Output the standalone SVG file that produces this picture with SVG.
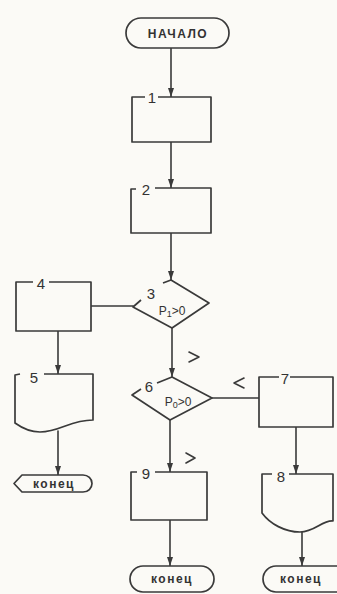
<svg xmlns="http://www.w3.org/2000/svg" width="337" height="594" viewBox="0 0 337 594">
  <defs>
    <marker id="arr" viewBox="0 0 9 6" refX="9" refY="3" markerWidth="9" markerHeight="6" orient="auto" markerUnits="userSpaceOnUse">
      <path d="M0,0 L9,3 L0,6 Z" fill="#3a3a3a"/>
    </marker>
    <style>
      .ln { fill: none; stroke: #3a3a3a; stroke-width: 1.6; stroke-linejoin: round; stroke-linecap: round; }
      .sh { fill: #fbfaf6; stroke: #3a3a3a; stroke-width: 1.7; stroke-linejoin: round; }
      .t { font-family: "Liberation Sans", "DejaVu Sans", sans-serif; fill: #333; font-weight: bold; }
      .num { font-size: 15px; font-weight: normal; }
      .term { font-size: 12px; letter-spacing: 1.5px; }
      .cond { font-size: 12px; font-weight: normal; }
    </style>
  </defs>

  <rect width="337" height="594" fill="#fbfaf6"/>

  <!-- connectors -->
  <g id="connectors">
    <line class="ln" x1="171" y1="48" x2="171" y2="97" marker-end="url(#arr)"/>
    <line class="ln" x1="171" y1="142" x2="171" y2="188" marker-end="url(#arr)"/>
    <line class="ln" x1="171" y1="233" x2="171" y2="280" marker-end="url(#arr)"/>
    <line class="ln" x1="133" y1="306" x2="91" y2="306"/>
    <line class="ln" x1="58" y1="331" x2="58" y2="374" marker-end="url(#arr)"/>
    <line class="ln" x1="58" y1="431" x2="58" y2="475" marker-end="url(#arr)"/>
    <line class="ln" x1="172" y1="328" x2="172" y2="377" marker-end="url(#arr)"/>
    <line class="ln" x1="212" y1="398" x2="259" y2="398"/>
    <line class="ln" x1="296" y1="427" x2="296" y2="474" marker-end="url(#arr)"/>
    <line class="ln" x1="170" y1="420" x2="170" y2="472" marker-end="url(#arr)"/>
    <line class="ln" x1="170" y1="520" x2="170" y2="566" marker-end="url(#arr)"/>
    <line class="ln" x1="302" y1="532" x2="302" y2="566" marker-end="url(#arr)"/>
    <!-- branch marks -->
    <path class="ln" d="M189,352 L199,357 L189,362"/>
    <path class="ln" d="M186,453 L195,458 L186,463"/>
    <path class="ln" d="M244,378 L234,383 L244,388"/>
  </g>

  <!-- start -->
  <g id="start">
    <rect class="sh" x="126" y="18" width="103" height="30" rx="15"/>
    <text class="t term" x="178" y="38" text-anchor="middle">НАЧАЛО</text>
  </g>

  <!-- process 1 -->
  <g id="n1">
    <path class="sh" d="M145,97 L132,97 L132,142 L211,142 L211,97 L158,97"/>
    <text class="t num" x="152" y="103" text-anchor="middle">1</text>
  </g>

  <!-- process 2 -->
  <g id="n2">
    <path class="sh" d="M136,189 L131,189 L131,233 L211,233 L211,188 L155,188"/>
    <text class="t num" x="146" y="195" text-anchor="middle">2</text>
  </g>

  <!-- decision 3 -->
  <g id="n3">
    <path class="sh" d="M163,283 L171,280 L209,303 L172,328 L133,307 L141,300"/>
    <text class="t num" x="151" y="299" text-anchor="middle">3</text>
    <text class="t cond" x="172" y="315" text-anchor="middle">P<tspan font-size="9" dy="2">1</tspan><tspan dy="-2">&gt;0</tspan></text>
  </g>

  <!-- process 4 -->
  <g id="n4">
    <path class="sh" d="M33,282 L16,282 L16,331 L91,331 L91,282 L49,282"/>
    <text class="t num" x="41" y="289" text-anchor="middle">4</text>
  </g>

  <!-- document 5 -->
  <g id="n5">
    <path class="sh" d="M20,374 L15,375 L15,423 C22,428 30,432 40,432 C60,432 70,420 93,420 L93,374 L44,374"/>
    <text class="t num" x="34" y="383" text-anchor="middle">5</text>
  </g>

  <!-- end (left) -->
  <g id="end1">
    <path class="sh" d="M22,475 L83,475 A9,8.5 0 0 1 83,492 L22,492 L14,483.5 Z"/>
    <text class="t term" x="54" y="488" text-anchor="middle" font-size="11" letter-spacing="1">конец</text>
  </g>

  <!-- decision 6 -->
  <g id="n6">
    <path class="sh" d="M157,383 L172,377 L212,398 L170,420 L132,395 L141,389"/>
    <text class="t num" x="149" y="392" text-anchor="middle">6</text>
    <text class="t cond" x="178" y="406" text-anchor="middle">P<tspan font-size="9" dy="2">0</tspan><tspan dy="-2">&gt;0</tspan></text>
  </g>

  <!-- process 7 -->
  <g id="n7">
    <path class="sh" d="M279,377 L259,377 L259,427 L333,427 L333,377 L290,377"/>
    <text class="t num" x="285" y="384" text-anchor="middle">7</text>
  </g>

  <!-- document 8 -->
  <g id="n8">
    <path class="sh" d="M272,474 L262,474 L262,513 C270,524 285,532 300,532 C315,532 322,520 333,521 L333,474 L289,474"/>
    <text class="t num" x="281" y="482" text-anchor="middle">8</text>
  </g>

  <!-- process 9 -->
  <g id="n9">
    <path class="sh" d="M137,472 L131,472 L131,520 L207,520 L207,472 L155,472"/>
    <text class="t num" x="146" y="479" text-anchor="middle">9</text>
  </g>

  <!-- end (middle) -->
  <g id="end2">
    <rect class="sh" x="130" y="566" width="84" height="26" rx="13"/>
    <text class="t term" x="172" y="583" text-anchor="middle">конец</text>
  </g>

  <!-- end (right) -->
  <g id="end3">
    <rect class="sh" x="263" y="566" width="88" height="26" rx="13"/>
    <text class="t term" x="301" y="583" text-anchor="middle">конец</text>
  </g>
</svg>
